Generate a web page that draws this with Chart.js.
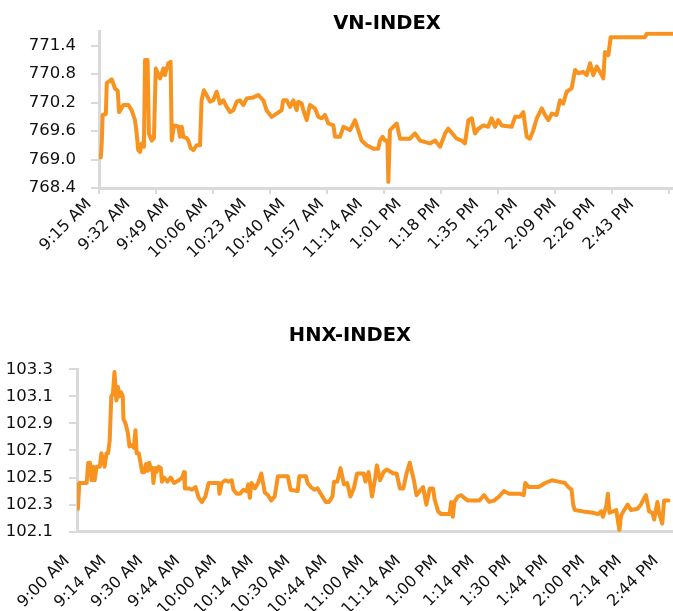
<!DOCTYPE html>
<html><head><meta charset="utf-8">
<script src="https://cdn.jsdelivr.net/npm/chart.js@4"></script>
<style>
html,body{margin:0;padding:0;background:#fff;overflow:hidden;width:673px;height:611px;}
#wrap{position:relative;width:673px;height:611px;overflow:hidden;}
canvas{position:absolute;left:0;}
#c1{top:0;}
#c2{top:300px;}
</style></head><body>
<div id="wrap">
<canvas id="c1" width="673" height="300" style="width:673px;height:300px"></canvas>
<canvas id="c2" width="700" height="311" style="width:700px;height:311px"></canvas>
</div>
<script>
// ---------- VN-INDEX ----------
const vnTitle = 'VN-INDEX';
const vnTickLabels = ['9:15 AM','9:32 AM','9:49 AM','10:06 AM','10:23 AM','10:40 AM','10:57 AM','11:14 AM','1:01 PM','1:18 PM','1:35 PM','1:52 PM','2:09 PM','2:26 PM','2:43 PM'];
const vnYTicks = [768.4, 769.0, 769.6, 770.2, 770.8, 771.4];
const vnX = [0,0.8,1.2,1.6,3.0,3.4,5.6,7.0,8.2,8.8,10.7,12.9,14.3,15.8,16.5,17.2,18.0,18.7,19.7,20.2,21.3,21.9,23.1,24.1,24.9,26.8,28.2,28.9,29.7,30.4,31.4,31.9,32.9,34.8,35.5,36.3,37.0,38.5,39.2,40.2,41.4,42.8,44.3,45.0,46.0,47.2,48.7,50.1,51.6,53.1,54.5,56.0,57.5,58.9,60.4,61.8,63.3,64.8,67.7,69.9,72.1,73.5,75.7,77.9,80.1,80.8,82.3,83.8,85.2,86.7,87.4,88.9,89.6,91.1,92.5,94.7,96.2,97.7,99.1,100.6,102.8,103.5,105.7,107.2,110.1,112.3,113.7,115.2,117.4,120.3,122.5,123.2,124.4,125.4,126.5,126.9,127.6,130.6,132.0,136.4,138.6,140.8,145.2,147.4,149.6,151.8,153.2,156.9,159.1,160.5,162.0,163.5,164.9,166.4,168.6,170.7,172.2,173.7,175.1,176.6,181.0,182.5,184.6,186.1,187.6,189.0,190.5,192.0,194.2,195.6,197.1,198.6,200.7,202.2,203.6,205.1,207.3,208.8,210.2,212.4,213.9,215.4,216.8,218.3,219.7,221.2,221.9,223.4,224.4,239.5,240.2,252];
const vnY = [769.05,769.05,769.34,769.94,769.96,770.61,770.69,770.50,770.45,770.00,770.15,770.15,770.04,769.83,769.56,769.20,769.16,769.34,769.27,771.10,771.10,769.55,769.40,769.45,770.92,770.71,770.92,770.78,770.92,771.03,771.06,769.40,769.72,769.70,769.48,769.69,769.48,769.45,769.40,769.24,769.20,769.30,769.30,770.25,770.46,770.36,770.22,770.25,770.43,770.18,770.25,770.11,770.00,770.04,770.22,770.25,770.15,770.29,770.31,770.36,770.25,770.04,769.90,769.97,770.04,770.25,770.25,770.11,770.25,770.04,770.22,770.18,770.04,769.83,770.15,770.08,769.90,769.87,769.94,769.76,769.72,769.48,769.48,769.69,769.62,769.83,769.62,769.40,769.30,769.23,769.23,769.40,769.48,769.40,769.40,768.53,769.62,769.76,769.44,769.44,769.55,769.40,769.34,769.40,769.27,769.55,769.65,769.44,769.40,769.34,769.83,769.87,769.55,769.65,769.72,769.69,769.87,769.69,769.83,769.72,769.69,769.90,769.90,770.00,769.48,769.44,769.62,769.87,770.08,769.94,769.83,769.97,769.94,770.25,770.18,770.43,770.50,770.89,770.82,770.85,770.78,771.03,770.78,770.96,770.85,770.71,771.27,771.20,771.58,771.58,771.65,771.65];

// ---------- HNX-INDEX ----------
const hnxTitle = 'HNX-INDEX';
const hnxTickLabels = ['9:00 AM','9:14 AM','9:30 AM','9:44 AM','10:00 AM','10:14 AM','10:30 AM','10:44 AM','11:00 AM','11:14 AM','1:00 PM','1:14 PM','1:30 PM','1:44 PM','2:00 PM','2:14 PM','2:44 PM'];
const hnxYTicks = [102.1, 102.3, 102.5, 102.7, 102.9, 103.1, 103.3];
const hnxX = [0,0.4,1.0,4.2,4.4,4.9,5.6,6.3,7.0,7.7,8.5,9.9,10.6,12.0,12.8,13.5,14.2,14.9,15.6,16.3,17.1,17.8,18.5,19.2,19.9,20.2,21.1,22.1,22.8,24.0,24.7,25.4,25.9,26.8,27.4,28.3,29.2,30.0,30.7,31.4,32.1,32.8,33.2,34.0,34.5,35.4,36.4,36.9,37.8,39.3,40.7,42.2,44.3,45.7,46.5,46.9,48.6,50.0,51.5,52.9,54.3,55.8,57.2,61.5,61.9,62.9,64.4,65.8,67.2,68.0,69.4,70.8,72.3,73.7,74.4,75.1,75.8,77.3,78.7,80.1,81.6,83.0,84.4,85.9,87.3,91.6,92.8,95.9,96.6,99.5,100.2,101.6,103.1,104.5,105.9,108.1,109.5,111.0,111.7,113.1,114.5,116.0,117.4,118.8,120.3,121.7,124.6,125.3,126.7,128.2,129.6,130.3,131.7,133.2,134.6,137.5,138.9,140.3,141.8,143.2,144.6,145.8,146.4,147.5,150.4,151.8,153.3,154.7,155.4,156.9,158.3,161.9,162.6,163.3,164.0,165.5,166.9,168.3,169.8,174.8,176.9,179.1,181.2,183.4,185.5,187.7,192.7,194.1,194.8,196.3,200.6,203.4,206.3,209.2,212.0,213.5,214.9,215.6,216.3,219.9,224.2,226.4,227.8,228.5,230.0,230.7,231.4,234.3,235.7,236.4,237.8,239.3,240.7,243.6,245.0,246.5,247.2,248.6,250.0,250.8,252.2,252.9,254.3,255.1,257];
const hnxY = [102.45,102.27,102.46,102.46,102.51,102.61,102.61,102.48,102.58,102.48,102.58,102.58,102.68,102.58,102.68,102.68,102.77,103.10,103.12,103.28,103.07,103.17,103.10,103.13,103.10,102.93,102.90,102.83,102.73,102.74,102.72,102.85,102.68,102.68,102.63,102.54,102.54,102.60,102.55,102.61,102.56,102.57,102.46,102.57,102.54,102.58,102.57,102.47,102.50,102.47,102.50,102.46,102.48,102.50,102.54,102.42,102.42,102.41,102.43,102.35,102.32,102.36,102.46,102.46,102.38,102.46,102.48,102.47,102.48,102.41,102.38,102.38,102.41,102.40,102.45,102.35,102.46,102.42,102.46,102.53,102.39,102.37,102.33,102.36,102.51,102.51,102.41,102.40,102.51,102.51,102.46,102.43,102.41,102.42,102.38,102.32,102.32,102.36,102.47,102.47,102.57,102.45,102.46,102.36,102.42,102.53,102.53,102.47,102.54,102.36,102.50,102.59,102.48,102.54,102.56,102.53,102.53,102.42,102.42,102.53,102.61,102.52,102.48,102.37,102.43,102.30,102.42,102.42,102.34,102.25,102.23,102.23,102.32,102.21,102.32,102.36,102.37,102.35,102.33,102.33,102.37,102.32,102.33,102.36,102.40,102.38,102.38,102.37,102.46,102.43,102.43,102.46,102.48,102.47,102.46,102.43,102.41,102.30,102.26,102.25,102.24,102.23,102.25,102.21,102.29,102.38,102.24,102.26,102.11,102.22,102.26,102.30,102.26,102.27,102.30,102.35,102.37,102.25,102.24,102.19,102.32,102.24,102.16,102.33,102.33];

// ---------- styling ----------
const ORANGE = '#F7931E';
const AXIS = '#D9D9D9';
const TEXT = '#111111';
const FONT = 'DejaVu Sans';

const panelTitle = {
  id: 'panelTitle',
  afterDraw(chart, args, opts) {
    const ctx = chart.ctx;
    ctx.save();
    ctx.font = opts.font;
    ctx.fillStyle = opts.color;
    ctx.textAlign = 'center';
    ctx.textBaseline = 'middle';
    ctx.fillText(opts.text, opts.x, opts.y);
    ctx.restore();
  }
};

function makeChart(canvas, c) {
  const pts = c.xs.map((x, i) => ({x: x, y: c.ys[i]}));
  return new Chart(canvas, {
    type: 'line',
    data: { datasets: [{ data: pts, borderColor: ORANGE, borderWidth: 4, pointRadius: 0,
      tension: 0, fill: false, borderJoinStyle: 'round', borderCapStyle: 'round' }] },
    options: {
      responsive: false, animation: false, devicePixelRatio: 1,
      layout: { padding: { top: c.padTop, left: 0, right: 0, bottom: 0 } },
      plugins: {
        legend: { display: false }, tooltip: { enabled: false }, title: { display: false },
        panelTitle: { text: c.title, x: c.titleX, y: c.titleY, color: '#000', font: 'bold 19.5px "DejaVu Sans"' }
      },
      scales: {
        x: {
          type: 'linear', position: 'bottom', weight: 1, min: 0, max: c.xMax,
          afterBuildTicks: s => { s.ticks = c.labels.map((_, i) => ({ value: i * c.labelStep })); },
          afterCalculateLabelRotation: s => { s.labelRotation = 45; },
          afterFit: s => { s.height = c.labelAreaH; },
          grid: { display: false, drawTicks: false }, border: { display: false },
          ticks: { autoSkip: false, maxRotation: 45, minRotation: 45, padding: c.labelPad,
            labelOffset: -10, color: TEXT, font: { family: FONT, size: 16 },
            callback: (v, i) => c.labels[i] }
        },
        xt: {
          type: 'linear', position: 'bottom', weight: 0, min: 0, max: c.xMax,
          afterBuildTicks: s => { s.ticks = c.tickMarks.map(v => ({ value: v })); },
          afterFit: s => { s.height = c.tickLen; },
          grid: { drawOnChartArea: false, drawTicks: c.tickLen > 0, tickLength: c.tickLen, color: AXIS, lineWidth: 2 },
          border: { display: true, color: AXIS, width: 3 },
          ticks: { display: false }
        },
        y: {
          type: 'linear', position: 'left', min: c.yMin, max: c.yMax,
          afterBuildTicks: s => { s.ticks = c.yTicks.map(v => ({ value: v })); },
          afterFit: s => { s.width = c.left; },
          grid: { drawOnChartArea: false, drawTicks: true, tickLength: 8, color: AXIS, lineWidth: 2 },
          border: { display: true, color: AXIS, width: 3 },
          ticks: { padding: c.yPad, color: TEXT, font: { family: FONT, size: 16.5 }, callback: v => v.toFixed(1) }
        }
      }
    },
    plugins: [panelTitle]
  });
}

makeChart(document.getElementById('c1'), {
  title: vnTitle, titleX: 387, titleY: 24,
  xs: vnX, ys: vnY, labels: vnTickLabels, labelStep: 17,
  tickMarks: [0,25,50,75,100,125,150,175,200,225,250], tickLen: 6,
  xMax: 251.75, yMin: 768.4, yMax: 771.7, yTicks: vnYTicks,
  padTop: 31.5, left: 99, labelAreaH: 106, labelPad: 1, yPad: 15
});

makeChart(document.getElementById('c2'), {
  title: hnxTitle, titleX: 350, titleY: 36,
  xs: hnxX, ys: hnxY, labels: hnxTickLabels, labelStep: 16,
  tickMarks: [], tickLen: 0,
  xMax: 268, yMin: 102.1, yMax: 103.3, yTicks: hnxYTicks,
  padTop: 69.3, left: 77, labelAreaH: 79.3, labelPad: 20, yPad: 16
});
</script>
</body></html>
